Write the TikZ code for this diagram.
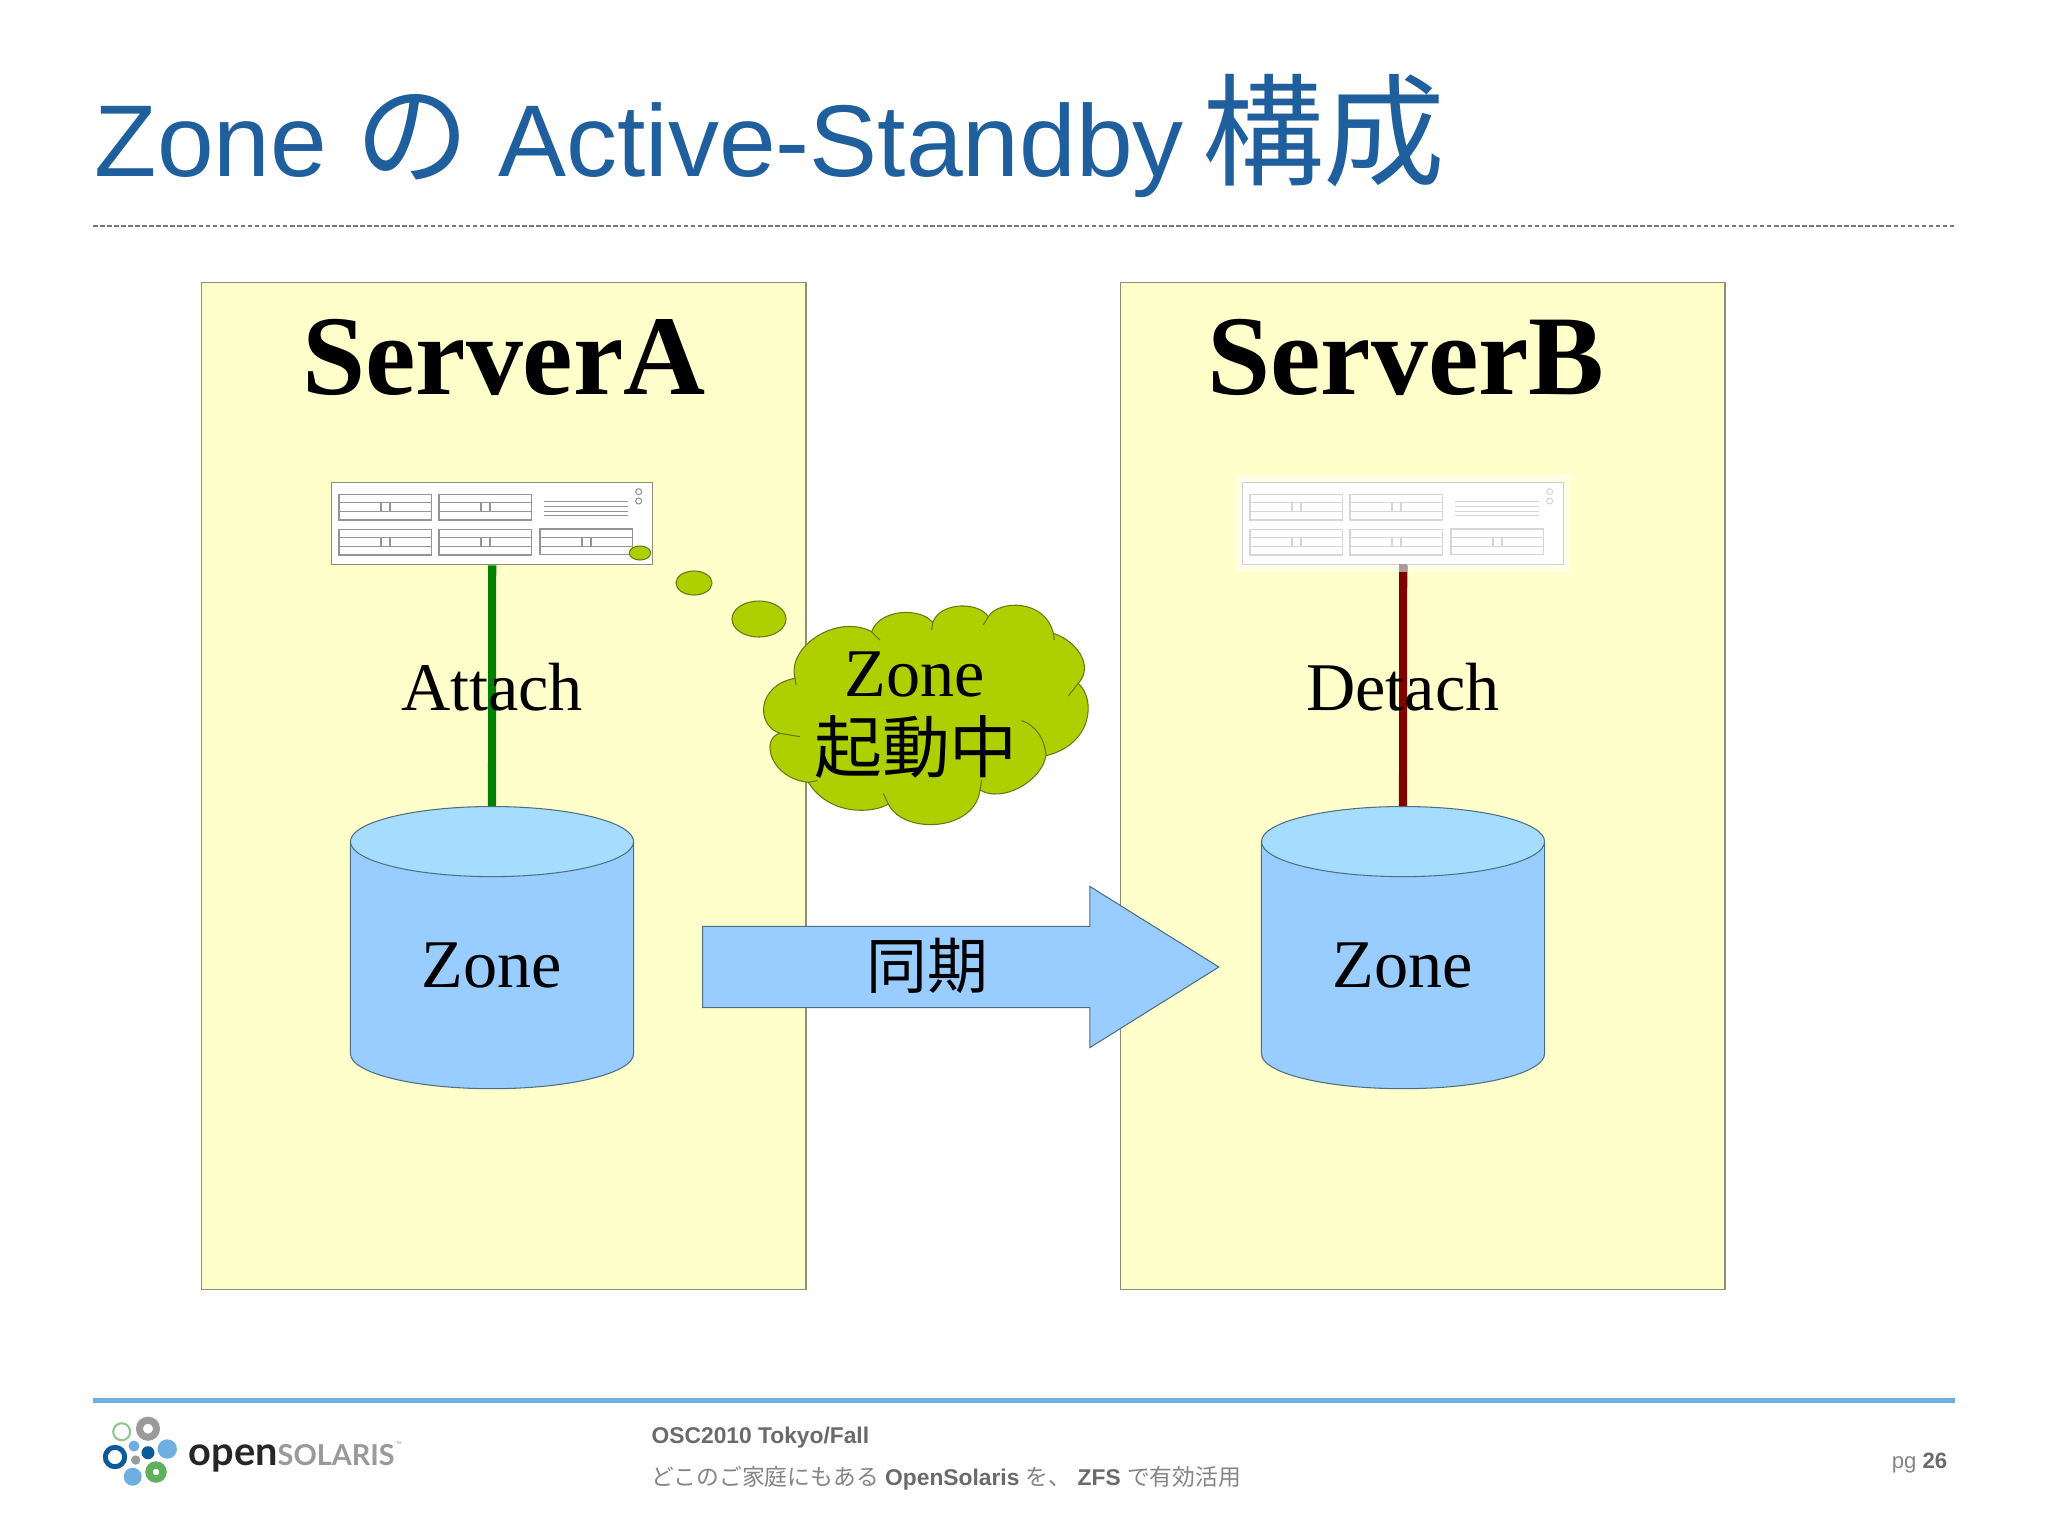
\documentclass[tikz,border=0pt]{standalone}
\usepackage{fontspec}
\setmainfont{Liberation Sans}
\newfontfamily\cjk{Noto Sans CJK JP}
\newfontfamily\timesfont{Liberation Serif}
\newfontfamily\logofont{Lato}
\usepackage{xcolor}
\usetikzlibrary{positioning, shapes.geometric, shapes.arrows}
\definecolor{titleblue}{HTML}{1F5F9E}
\definecolor{rulegray}{HTML}{777777}
\definecolor{ruleblue}{HTML}{6FAEE0}
\definecolor{panelfill}{HTML}{FFFFCC}
\definecolor{paneledge}{HTML}{8F8F78}
\definecolor{zonebody}{HTML}{99CCFF}
\definecolor{zonetop}{HTML}{A6DDFF}
\definecolor{zoneedge}{HTML}{4F6F80}
\definecolor{bubble}{HTML}{AFD000}
\definecolor{bubbleedge}{HTML}{66790F}
\definecolor{attachgreen}{HTML}{008000}
\definecolor{detachred}{HTML}{800000}
\definecolor{footbold}{HTML}{6A6A6A}
\definecolor{footdim}{HTML}{858585}
\definecolor{logoblue}{HTML}{6FAEE0}
\definecolor{logonavy}{HTML}{0B5A9A}
\definecolor{logogreen}{HTML}{5FB05F}
\definecolor{logogray}{HTML}{9A9A9A}

\begin{document}
\begin{tikzpicture}[
  x=0.01cm, y=-0.01cm,
  panel/.style={rectangle, draw=paneledge, line width=0.35pt, fill=panelfill, minimum width=6.04cm, minimum height=10.06cm, anchor=north west},
  zone/.style={
    cylinder, shape border rotate=90, aspect=0.5, draw=zoneedge, line width=0.3pt, cylinder uses custom fill,
    cylinder body fill=zonebody, cylinder end fill=zonetop, minimum width=2.83cm, minimum height=2.82cm, anchor=north, inner sep=0pt,
    font=\timesfont\fontsize{19.4}{19.4}\selectfont
  },
  serverbox/.style={rectangle, fill=white, line width=0.35pt, minimum width=3.21cm, minimum height=0.82cm, anchor=north west},
  thought/.style={ellipse, draw=bubbleedge, line width=0.3pt, fill=bubble, inner sep=0pt},
  heading/.style={font=\timesfont\bfseries\fontsize{32.3}{32.3}\selectfont},
  body/.style={font=\timesfont\fontsize{19.4}{19.4}\selectfont},
  foot/.style={anchor=base west, inner sep=0pt, font=\fontsize{6.48}{6.48}\selectfont},
  link/.style={line width=2.3pt},
  serverbays/.pic={
    \foreach \bx/\by in {8/12.3, 108/12.3, 8/47.3, 108/47.3, 209/47} {
      \draw[pic actions] (\bx,\by) rectangle +(92.5,25.7);
      \draw[pic actions] (\bx,\by) ++(0,8.6) -- +(92.5,0);
      \draw[pic actions] (\bx,\by) ++(0,17.1) -- +(92.5,0);
      \draw[pic actions] (\bx,\by) ++(42,8.6) rectangle +(9,8.5);
    }
    \foreach \vy in {19.7, 24.7, 29.3, 33.7}
      \draw[pic actions] (213,\vy) -- (297,\vy);
    \draw[pic actions] (307.7,9.7) circle (3);
    \draw[pic actions] (307.7,19) circle (3);
  },
]
\useasboundingbox (0,0) rectangle (2048,1536);
\fill[white] (0,0) rectangle (2048,1536);

% title
\node[anchor=base west, inner sep=0pt, text=titleblue, font=\fontsize{29}{29}\selectfont] (title) at (94,176)
  {Zone {\cjk\fontsize{32.5}{32.5}\selectfont の} Active-Standby\kern-2.9pt{} {\cjk\fontsize{34.6}{34.6}\selectfont 構成}};
\draw[rulegray, line width=0.3pt, dash pattern=on 1.3pt off 0.7pt] (93,226) -- (1955,226);

% servers
\node[panel] (panelA) at (201,282) {};
\node[panel] (panelB) at (1120,282) {};
\node[heading] (nameA) at (504,357) {ServerA};
\node[heading] (nameB) at (1406,357) {ServerB};

\fill[white!55!panelfill] (1235,475) rectangle (1570,572);
\node[serverbox, draw=paneledge] (serverA) at (331,482) {};
\node[serverbox, draw=black!18] (serverB) at (1242,482) {};
\pic[draw=black!42, line width=0.3pt] at (serverA.north west) {serverbays};
\pic[draw=black!16, line width=0.3pt] at (serverB.north west) {serverbays};

\node[zone] (zoneA) at (492,806) {\raisebox{-0.02cm}{Zone}};
\node[zone] (zoneB) at (1403,806) {\raisebox{-0.02cm}{Zone}};
\draw[link, attachgreen] (serverA.south) -- (zoneA.north);
\draw[link, detachred] (serverB.south) -- (zoneB.north);
\fill[detachred!25!white!80!black] (1399,564) rectangle (1407,572);
\node[body] (attach) at (492,687) {Attach};
\node[body] (detach) at (1403,687) {Detach};

% sync arrow
\node[single arrow, draw=zoneedge, line width=0.3pt, fill=zonebody, anchor=tail, minimum height=5.16cm, minimum width=1.6cm,
  single arrow head extend=0.4cm, single arrow tip angle=64, single arrow head indent=0pt, inner xsep=0pt, inner ysep=0.4cm] (sync) at (702,967) {};
\node[font=\cjk\fontsize{17.3}{17.3}\selectfont] (synclabel) at (927,966) {同期};

% thought bubble
\node[thought, minimum width=0.214cm, minimum height=0.14cm] (dotA) at (640,553) {};
\node[thought, minimum width=0.36cm, minimum height=0.24cm] (dotB) at (694,583) {};
\node[thought, minimum width=0.54cm, minimum height=0.36cm] (dotC) at (759,619) {};
\begin{scope}[shift={(740,590)}, scale=0.3333]
\draw[draw=bubbleedge, line width=0.3pt, fill=bubble]
  (395,125) .. controls (420,55) and (545,52) .. (578,98)
  .. controls (600,35) and (715,34) .. (745,80)
  .. controls (775,30) and (915,25) .. (940,130)
  .. controls (1005,150) and (1065,225) .. (1015,280)
  .. controls (1070,330) and (1055,465) .. (918,497)
  .. controls (905,575) and (785,640) .. (720,600)
  .. controls (705,725) and (490,735) .. (445,642)
  .. controls (400,670) and (270,680) .. (205,577)
  .. controls (90,565) and (60,445) .. (120,430)
  .. controls (45,405) and (52,285) .. (165,265)
  .. controls (140,170) and (290,70) .. (395,125) -- cycle;
\draw[draw=bubbleedge, line width=0.3pt]
  (395,125) -- (420,150)
  (578,98) -- (575,120)
  (745,80) -- (730,105)
  (940,130) -- (943,150)
  (1015,280) -- (985,318)
  (845,392) .. controls (885,405) and (915,445) .. (918,497)
  (720,600) -- (725,570)
  (445,642) -- (430,610)
  (205,577) -- (232,572)
  (120,430) -- (180,440)
  (165,265) -- (168,285);
\end{scope}
\node[body] (cloudzone) at (915,674) {Zone};
\node[font=\cjk\fontsize{19.3}{19.3}\selectfont] (cloudrun) at (916,747) {起動中};

% footer
\fill[ruleblue] (93,1397.5) rectangle (1955,1402.5);
\draw[logogreen!70!white, line width=0.6pt] (121.7,1431.7) circle (8.5);
\draw[logogray, line width=2pt] (148,1428.7) circle (8.5);
\draw[logonavy, line width=1.4pt] (115,1457) circle (9.7);
\draw[logogreen, line width=2.1pt] (156,1472) circle (7);
\fill[logoblue] (134,1446) circle (5.5);
\fill[logonavy] (148,1452.7) circle (6.5);
\fill[logoblue] (167.3,1449) circle (9.7);
\fill[logogray] (135.7,1460) circle (4.7);
\fill[logoblue] (132.7,1476.7) circle (9);
\node[anchor=base west, inner sep=0pt, text=black!85, font=\logofont\bfseries\fontsize{11.3}{11.3}\selectfont] (logoopen) at (188,1465) {open};
\node[anchor=base west, inner sep=0pt, text=logogray, font=\logofont\bfseries\fontsize{8.2}{8.2}\selectfont] (logosolaris) at (277,1465) {SOLARIS};
\node[above right=-1.5pt and 0pt of logosolaris.north east, anchor=south west, inner sep=0pt, text=logogray, font=\logofont\fontsize{2.2}{2.2}\selectfont] (logotm) {™};
\node[foot, text=footbold, font=\bfseries\fontsize{6.48}{6.48}\selectfont] (event) at (651,1443) {OSC2010 Tokyo/Fall};
\node[foot, text=footdim] (subject) at (651,1485)
  {{\cjk どこのご家庭にもある} \textcolor{footbold}{\bfseries OpenSolaris} {\cjk を、} \textcolor{footbold}{\bfseries ZFS} {\cjk で有効活用}};
\node[anchor=base east, inner sep=0pt, text=footdim, font=\fontsize{6.3}{6.3}\selectfont] (page) at (1948,1468) {pg \textcolor{footbold}{\bfseries 26}};
\end{tikzpicture}
\end{document}
